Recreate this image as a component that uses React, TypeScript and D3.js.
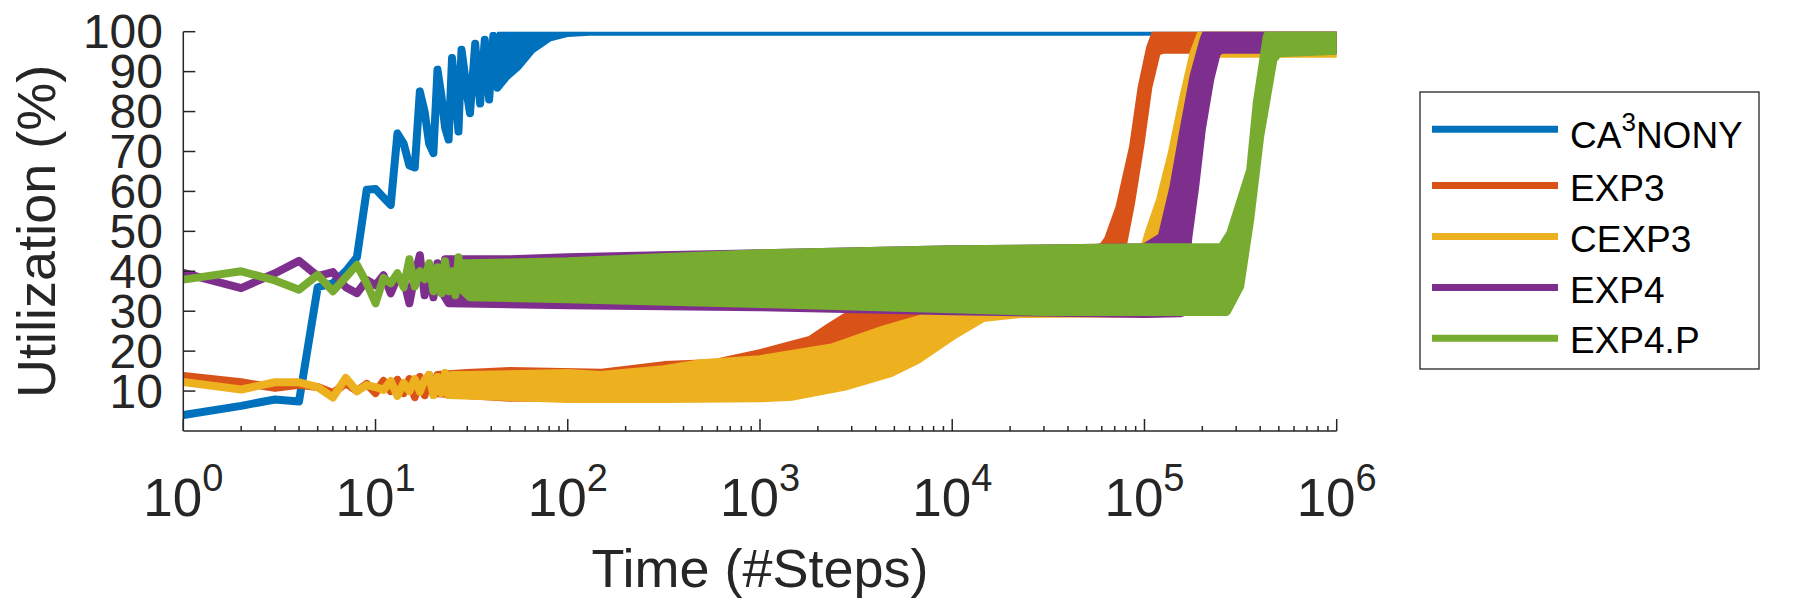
import * as d3 from 'd3';

// steps (x) and utilization in % (y)
// early: single-step values; upper / lower: edges of the dense oscillation band
const seriesNames = ['CA\u00b3NONY', 'EXP3', 'CEXP3', 'EXP4', 'EXP4.P'];
const seriesColors = ['#0072BD', '#D95319', '#EDB120', '#7E2F8E', '#77AC30'];

const ca3nonyEarly = [
  [1, 4], [2, 6.3], [3, 7.9], [4, 7.4], [5, 36], [6, 37], [7, 40], [8, 43.5], [9, 60.4], [10, 60.6],
  [11, 58.5], [12, 56.6], [13, 74.5], [14, 72], [15, 66.5], [16, 66], [17, 85], [18, 80], [19, 72],
  [20, 69.6], [21, 90.5], [22, 84], [23, 76], [24, 73], [25, 93.4], [26, 85], [27, 75], [28, 95.5],
  [29, 90], [30, 84], [31, 79.6], [33, 97], [35, 82], [37, 98], [39, 83], [41, 99], [43, 86],
];
const ca3nonyUpper = [[43, 86], [45, 100], [1000000, 100]];
const ca3nonyLower = [[43, 86], [48, 88.8], [55, 91.3], [65, 95.5], [80, 98.5], [100, 99.7], [130, 100], [1000000, 100]];

const exp3Early = [
  [1, 13.8], [2, 12.2], [3, 10.8], [4, 11.6], [5, 11], [6, 9.5], [7, 12], [8, 10], [9, 11.8],
  [10, 9.5], [11, 12.5], [12, 10], [13, 12.8], [14, 9.5], [15, 13], [16, 8.5], [17, 13.5], [18, 9],
  [19, 14], [20, 9.5],
];
const exp3Upper = [
  [20, 9.5], [21, 14], [30, 14.5], [50, 15], [150, 14.6], [316, 16.5], [575, 17], [1000, 19.5],
  [1820, 22.8], [2290, 26], [2880, 29], [3550, 31], [5620, 37], [10000, 42], [20000, 45],
  [50000, 45.5], [60300, 46], [64600, 48], [74100, 56], [87100, 71], [96600, 86], [107000, 96],
  [114800, 100], [1000000, 100],
];
const exp3Lower = [
  [20, 9.5], [50, 8.3], [316, 8.5], [1000, 9], [1820, 11], [2290, 13], [2880, 15.5],
  [3550, 18], [5620, 24], [10000, 29], [20000, 29.8], [70800, 29.5], [77600, 47], [85100, 57],
  [95500, 72], [104700, 86], [116100, 95], [125900, 95.5], [1000000, 95.5],
];

const cexp3Early = [
  [1, 12.3], [2, 10.4], [3, 12.2], [4, 12.2], [5, 11], [6, 8.4], [7, 13.3], [8, 10], [9, 11.5],
  [10, 11], [11, 10.3], [12, 12.5], [13, 8.8], [14, 12], [15, 10], [16, 13], [17, 9.8], [18, 12.8],
  [19, 14], [20, 9], [21, 13.5], [22, 9.5], [23, 14.5], [24, 9],
];
const cexp3Upper = [
  [24, 9], [25, 14], [30, 14], [100, 14.5], [148, 14], [316, 15.5], [490, 17], [1000, 18], [2400, 21],
  [4370, 25.4], [7940, 29], [12000, 32], [20000, 40], [32000, 45], [100000, 46], [105000, 49.5],
  [120500, 57.9], [138700, 69.6], [159600, 83.8], [179900, 94.6], [198600, 100], [1000000, 100],
];
const cexp3Lower = [
  [24, 9], [100, 8], [316, 8], [1000, 8.2], [1480, 8.6], [2820, 11.2], [4790, 14.5],
  [6610, 17.8], [10000, 23.7], [14450, 28.3], [22400, 29.3], [123000, 29.5], [132000, 48],
  [148000, 60], [166000, 72], [186000, 86], [209000, 94.5], [1000000, 94.5],
];

const exp4Early = [
  [1, 39.6], [2, 35.8], [3, 39.5], [4, 42.6], [5, 38.8], [6, 39.8], [7, 36], [8, 34.5], [9, 37.8],
  [10, 36.5], [11, 39], [12, 34.5], [13, 38.5], [14, 38], [15, 32], [16, 39], [17, 44], [18, 34],
  [19, 40], [20, 33.5], [21, 42], [22, 35],
];
const exp4Upper = [
  [22, 35], [23, 43], [50, 43], [100, 43.5], [300, 44], [1000, 44.5], [10000, 45.5], [100000, 46],
  [123000, 48.7], [141600, 61.2], [159600, 75.4], [179900, 88.8], [202800, 98], [210900, 100], [1000000, 100],
];
const exp4Lower = [
  [22, 35], [24, 32], [100, 31.5], [1000, 31], [10000, 30], [100000, 29.3], [155000, 29.5],
  [169400, 48.7], [183700, 61.2], [198600, 75.4], [219800, 88], [237700, 94.6], [250000, 95.5], [1000000, 95.5],
];

const exp4pEarly = [
  [1, 37.9], [2, 40], [3, 37.7], [4, 35.4], [5, 39.1], [6, 35], [7, 38.5], [8, 41.6], [9, 37],
  [10, 32], [11, 38.3], [12, 37], [13, 39.5], [14, 36], [15, 43], [16, 36.2], [17, 40], [18, 38],
  [19, 42], [20, 35], [21, 41], [22, 34.5], [23, 42.5], [24, 35], [25, 40], [26, 34], [27, 43.5], [28, 35.5],
];
const exp4pUpper = [
  [28, 35.5], [29, 42], [100, 42.5], [300, 43.5], [1000, 44.5], [10000, 45.5], [100000, 46], [251000, 46],
  [279000, 49.5], [354800, 65.4], [383700, 82.1], [432500, 98.8], [445000, 100], [1000000, 100],
];
const exp4pLower = [
  [28, 35.5], [31, 33.5], [100, 33], [1000, 31.8], [10000, 30.5], [30000, 29.8], [268000, 29.8],
  [314800, 36.2], [354800, 52.9], [400000, 73.8], [468800, 93], [497700, 94.6], [1000000, 95.2],
];

const seriesEarly = [ca3nonyEarly, exp3Early, cexp3Early, exp4Early, exp4pEarly];
const seriesUpper = [ca3nonyUpper, exp3Upper, cexp3Upper, exp4Upper, exp4pUpper];
const seriesLower = [ca3nonyLower, exp3Lower, cexp3Lower, exp4Lower, exp4pLower];

const yTicks = [10, 20, 30, 40, 50, 60, 70, 80, 90, 100];
const xDecades = [0, 1, 2, 3, 4, 5, 6];

const FONT = '"Liberation Sans", Arial, Helvetica, sans-serif';
const AXIS = '#262626';

const App = () => {
  const left = 183.3, right = 1336.7, top = 31.7, bottom = 431;

  const x: any = d3.scaleLog().domain([1, 1e6]).range([left, right]);
  const y: any = d3.scaleLinear().domain([0, 100]).range([bottom, top]);

  const line = d3.line<any>()
    .x((d: any) => x(d[0]))
    .y((d: any) => y(d[1]));

  // outline of each series: early line, upper edge out, lower edge back
  const bandPath = (i: number) => {
    const early = seriesEarly[i];
    const pts = [
      ...early,
      ...seriesUpper[i],
      ...seriesLower[i].slice().reverse(),
      ...early.slice().reverse(),
    ];
    return line(pts) + 'Z';
  };

  const minorTicks = x.ticks().filter((t: number) => !xDecades.some(k => Math.abs(t - Math.pow(10, k)) < 1e-9));

  const legendLineY = [129.3, 185.5, 236.5, 287.5, 338.3];
  const legendTextY = [148.3, 200.5, 251.5, 302.5, 353.3];

  return (
    <svg width={1800} height={600} style={{ position: 'absolute', left: 0, top: 0, background: '#fff' }}>
      <defs>
        <clipPath id="plotArea">
          <rect x={left} y={top} width={right - left} height={bottom - top} />
        </clipPath>
      </defs>

      {/* Series */}
      <g clipPath="url(#plotArea)">
        {seriesNames.map((name, i) => (
          <path key={name} d={bandPath(i)} fill={seriesColors[i]} stroke={seriesColors[i]}
            strokeWidth={8} strokeLinejoin="round" strokeLinecap="round" />
        ))}
      </g>

      {/* Axes */}
      <g stroke={AXIS} strokeWidth={1.5} fill="none">
        <line x1={left} y1={top} x2={left} y2={bottom} />
        <line x1={left} y1={bottom} x2={right} y2={bottom} />
        {yTicks.map(t => (
          <line key={'yt' + t} x1={left} x2={left + 12} y1={y(t)} y2={y(t)} />
        ))}
        {xDecades.map(k => (
          <line key={'xt' + k} x1={x(Math.pow(10, k))} x2={x(Math.pow(10, k))} y1={bottom} y2={bottom - 12} />
        ))}
        {minorTicks.map((t: number) => (
          <line key={'xm' + t} x1={x(t)} x2={x(t)} y1={bottom} y2={bottom - 5} />
        ))}
      </g>

      {/* Tick labels */}
      <g fill={AXIS} fontFamily={FONT}>
        {yTicks.map(t => (
          <text key={'yl' + t} x={163} y={y(t)} fontSize={48} textAnchor="end" dominantBaseline="central">{t}</text>
        ))}
        {xDecades.map(k => (
          <text key={'xl' + k} x={x(Math.pow(10, k))} y={516} fontSize={53} textAnchor="middle">
            10<tspan dy={-25} fontSize={38}>{k}</tspan>
          </text>
        ))}
      </g>

      {/* Axis titles */}
      <text x={(left + right) / 2} y={587} fontSize={54} textAnchor="middle" fill={AXIS} fontFamily={FONT}>
        Time (#Steps)
      </text>
      <text transform={`translate(55,${(top + bottom) / 2}) rotate(-90)`} fontSize={54} textAnchor="middle"
        fill={AXIS} fontFamily={FONT}>
        Utilization (%)
      </text>

      {/* Legend */}
      <rect x={1420} y={92} width={339} height={277} fill="#fff" stroke={AXIS} strokeWidth={1.3} />
      {seriesNames.map((name, i) => (
        <g key={'lg' + name}>
          <line x1={1432} x2={1558} y1={legendLineY[i]} y2={legendLineY[i]} stroke={seriesColors[i]} strokeWidth={7} />
          {i === 0 ? (
            <text x={1570} y={legendTextY[i]} fontSize={37} fontFamily={FONT} fill="#000">
              CA<tspan dy={-17} fontSize={26}>3</tspan><tspan dy={17}>NONY</tspan>
            </text>
          ) : (
            <text x={1570} y={legendTextY[i]} fontSize={37} fontFamily={FONT} fill="#000">{name}</text>
          )}
        </g>
      ))}
    </svg>
  );
};

export default App;
